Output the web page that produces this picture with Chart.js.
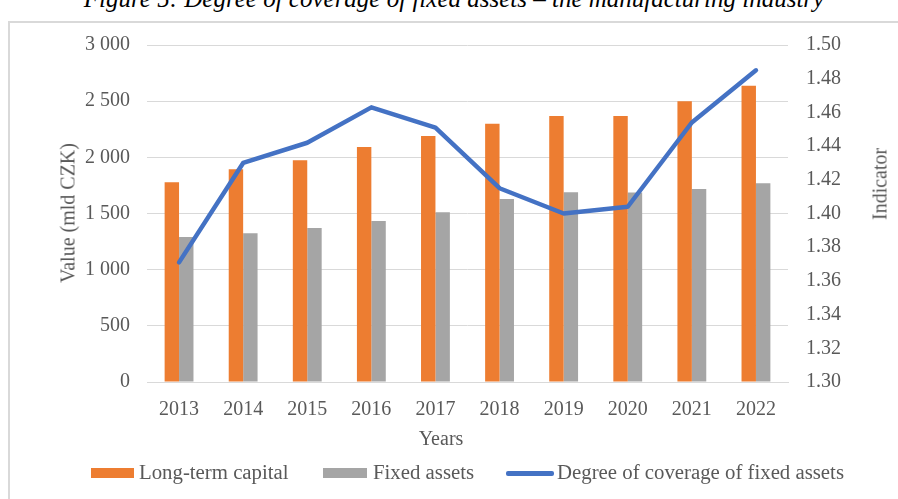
<!DOCTYPE html>
<html>
<head>
<meta charset="utf-8">
<script src="https://cdn.jsdelivr.net/npm/chart.js@4.4.1/dist/chart.umd.min.js"></script>
<style>
    html, body { margin: 0; padding: 0; background: #fff; }
    body { width: 898px; height: 499px; position: relative; overflow: hidden; font-family: 'Liberation Serif', 'Times New Roman', serif; color: #595959; }
    #frame { position: absolute; left: 8px; top: 21px; width: 900px; height: 500px; border-left: 2px solid #d9d9d9; border-top: 2px solid #d9d9d9; }
    #chartTitle { position: absolute; left: 0; width: 908px; top: -15px; text-align: center; font-style: italic; font-size: 25px; color: #000; white-space: nowrap; }
    canvas { position: absolute; left: 0; top: 0; }
    .axisTitle { position: absolute; font-size: 20px; white-space: nowrap; transform: translate(-50%, -50%) rotate(-90deg); }
    #xTitle { position: absolute; left: 441px; top: 438px; font-size: 20px; transform: translate(-50%, -50%); }
    .legendBox { position: absolute; }
    .legendText { position: absolute; font-size: 20.8px; top: 460px; white-space: nowrap; }
</style>
</head>
<body>
<div id="frame"></div>
<div id="chartTitle">Figure 5: Degree of coverage of fixed assets – the manufacturing industry</div>
<canvas id="coverageChart" width="898" height="499"></canvas>
<div class="axisTitle" style="left:68px; top:213px;">Value (mld CZK)</div>
<div class="axisTitle" style="left:880px; top:184px;">Indicator</div>
<div id="xTitle">Years</div>

<div class="legendBox" style="left:91px; top:468px; width:43px; height:10px; background:#ED7D31;"></div>
<div class="legendText" style="left:139px;">Long-term capital</div>
<div class="legendBox" style="left:323px; top:468px; width:44px; height:10px; background:#A5A5A5;"></div>
<div class="legendText" style="left:373px;">Fixed assets</div>
<div class="legendBox" style="left:506px; top:471px; width:48px; height:4.5px; border-radius:2px; background:#4472C4;"></div>
<div class="legendText" style="left:557px;">Degree of coverage of fixed assets</div>

<script>
// Data
const years = ['2013', '2014', '2015', '2016', '2017', '2018', '2019', '2020', '2021', '2022'];
const longTermCapital = [1778, 1894, 1974, 2092, 2190, 2300, 2368, 2368, 2499, 2638];
const fixedAssets = [1290, 1324, 1371, 1433, 1511, 1629, 1689, 1686, 1718, 1769];
const coverageDegree = [1.371, 1.430, 1.442, 1.463, 1.451, 1.415, 1.400, 1.404, 1.454, 1.485];
const valueTicks = [0, 500, 1000, 1500, 2000, 2500, 3000];
const indicatorTicks = [1.30, 1.32, 1.34, 1.36, 1.38, 1.40, 1.42, 1.44, 1.46, 1.48, 1.50];

const textColor = '#595959';
const gridColor = '#d9d9d9';
const tickFont = { family: "'Liberation Serif', 'Times New Roman', serif", size: 20 };

// chart area: x 147..788, y 45..382
const ctx = document.getElementById('coverageChart').getContext('2d');
new Chart(ctx, {
    type: 'bar',
    data: {
        labels: years,
        datasets: [
            {
                type: 'line',
                label: 'Degree of coverage of fixed assets',
                data: coverageDegree,
                yAxisID: 'yRight',
                borderColor: '#4472C4',
                backgroundColor: '#4472C4',
                borderWidth: 4.5,
                pointRadius: 0,
                tension: 0,
                borderJoinStyle: 'round',
                borderCapStyle: 'round',
                order: 0
            },
            {
                label: 'Long-term capital',
                data: longTermCapital,
                yAxisID: 'y',
                backgroundColor: '#ED7D31',
                barPercentage: 1,
                categoryPercentage: 0.45,
                order: 1
            },
            {
                label: 'Fixed assets',
                data: fixedAssets,
                yAxisID: 'y',
                backgroundColor: '#A5A5A5',
                barPercentage: 1,
                categoryPercentage: 0.45,
                order: 1
            }
        ]
    },
    options: {
        responsive: false,
        animation: false,
        layout: { padding: { left: 0, right: 0, top: 45, bottom: 0 } },
        plugins: {
            legend: { display: false },
            tooltip: { enabled: false }
        },
        scales: {
            x: {
                grid: { display: false, drawTicks: false },
                border: { display: true, color: gridColor, width: 1 },
                ticks: { color: textColor, font: tickFont, padding: 16, maxRotation: 0 },
                afterFit: (scale) => { scale.height = 499 - 45 - 337; }
            },
            y: {
                position: 'left',
                min: 0,
                max: 3000,
                afterBuildTicks: (scale) => { scale.ticks = valueTicks.map(v => ({ value: v })); },
                grid: { color: gridColor, lineWidth: 1, drawTicks: false },
                border: { display: false },
                ticks: {
                    color: textColor,
                    font: tickFont,
                    padding: 17,
                    callback: (v) => String(v).replace(/\B(?=(\d{3})+(?!\d))/g, ' ')
                },
                afterFit: (scale) => { scale.width = 147; }
            },
            yRight: {
                position: 'right',
                min: 1.30,
                max: 1.50,
                afterBuildTicks: (scale) => { scale.ticks = indicatorTicks.map(v => ({ value: v })); },
                grid: { display: false, drawTicks: false },
                border: { display: false },
                ticks: {
                    color: textColor,
                    font: tickFont,
                    padding: 18,
                    callback: (v) => Number(v).toFixed(2)
                },
                afterFit: (scale) => { scale.width = 898 - 788; }
            }
        }
    }
});
</script>
</body>
</html>
